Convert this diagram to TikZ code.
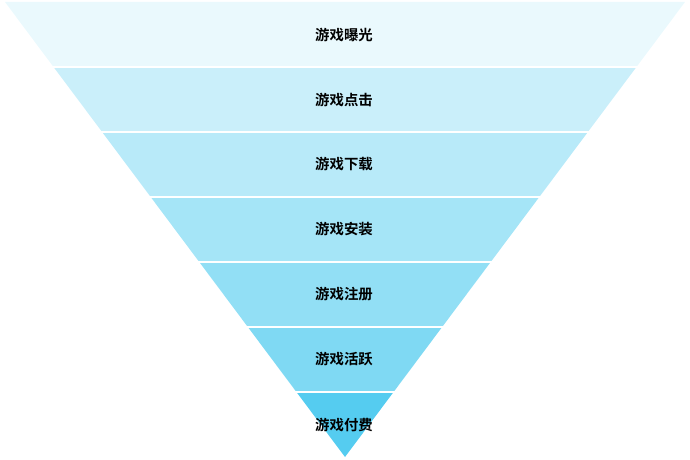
\documentclass[tikz,border=0pt]{standalone}
\usepackage{fontspec}
\newfontfamily\cjk{Noto Sans CJK SC}[BoldFont={Noto Sans CJK SC Bold}]
\usepackage{xcolor}
\definecolor{fa}{HTML}{EAF9FD}
\definecolor{fb}{HTML}{CAEFFA}
\definecolor{fc}{HTML}{B8EAF9}
\definecolor{fd}{HTML}{A5E5F7}
\definecolor{fe}{HTML}{92DFF5}
\definecolor{ff}{HTML}{7FD9F3}
\definecolor{fg}{HTML}{55CCF0}
\tikzset{lbl/.style={font=\cjk\bfseries\fontsize{10.8pt}{12pt}\selectfont,text=black,inner sep=0pt}}

\begin{document}
\begin{tikzpicture}[line join=round,x=0.75pt,y=-0.75pt]
\useasboundingbox (0,0) rectangle (690,460);
\foreach \c [count=\i from 0] in {fa,fb,fc,fd,fe,ff,fg}{
\pgfmathsetmacro\yt{2+65*\i}
\pgfmathsetmacro\yb{\yt+65}
\pgfmathsetmacro\wt{0.7473*(457-\yt)}
\pgfmathsetmacro\wb{max(0,0.7473*(457-\yb))}
\fill[\c] (345-\wt,\yt) -- (345+\wt,\yt) -- (345+\wb,\yb) -- (345-\wb,\yb) -- cycle;
}
\foreach \i in {1,...,6}
\draw[white,line width=2.2pt] (0,2+65*\i) -- (690,2+65*\i);
\foreach \t [count=\i] in {游戏曝光,游戏点击,游戏下载,游戏安装,游戏注册,游戏活跃,游戏付费}
\node[lbl] (l\i) at (344,65*\i-30.5) {\t};
\end{tikzpicture}
\end{document}
